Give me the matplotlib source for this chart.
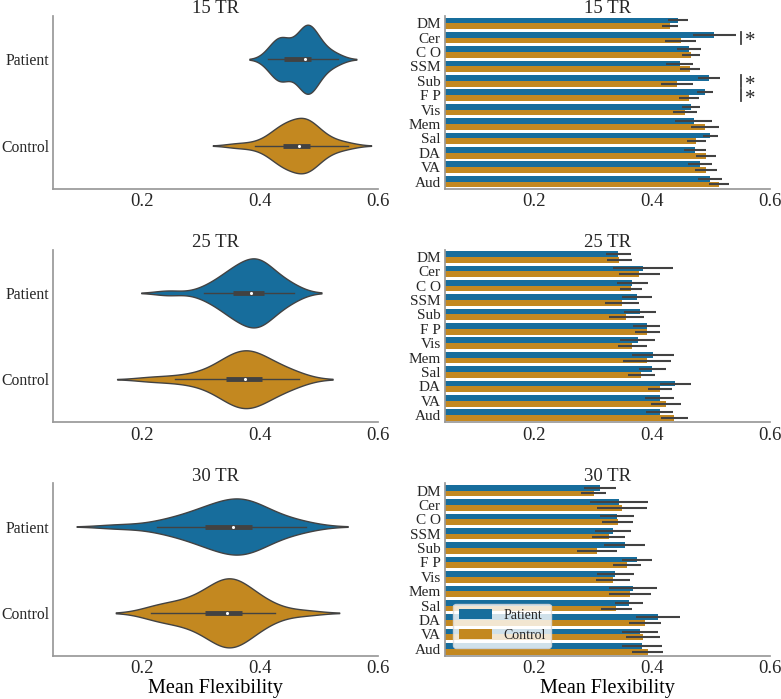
import colorsys
import numpy as np
import matplotlib
matplotlib.use("Agg")
import matplotlib.pyplot as plt
from matplotlib.patches import Patch

# --- data ---
windows = ['15 TR', '25 TR', '30 TR']
groups = ['Patient', 'Control']
networks = ['DM', 'Cer', 'C O', 'SSM', 'Sub', 'F P', 'Vis', 'Mem', 'Sal', 'DA', 'VA', 'Aud']

# per-subject mean flexibility (approximate samples for the violins)
patient_15 = [0.413, 0.422, 0.427, 0.430, 0.432, 0.434, 0.436, 0.439, 0.442, 0.448,
              0.458, 0.466, 0.470, 0.473, 0.475, 0.477, 0.478, 0.479, 0.480, 0.482,
              0.483, 0.485, 0.487, 0.490, 0.493, 0.497, 0.503, 0.510, 0.520, 0.532]
control_15 = [0.360, 0.392, 0.412, 0.422, 0.428, 0.432, 0.435, 0.438, 0.441, 0.444,
              0.448, 0.453, 0.458, 0.461, 0.464, 0.469, 0.472, 0.474, 0.476, 0.478,
              0.480, 0.482, 0.485, 0.488, 0.492, 0.497, 0.504, 0.514, 0.528, 0.548]
patient_25 = [0.245, 0.305, 0.318, 0.330, 0.340, 0.346, 0.350, 0.353, 0.358, 0.363,
              0.368, 0.372, 0.377, 0.381, 0.384, 0.387, 0.390, 0.393, 0.396, 0.399,
              0.402, 0.405, 0.408, 0.411, 0.416, 0.422, 0.430, 0.440, 0.450, 0.458]
control_25 = [0.215, 0.257, 0.285, 0.305, 0.320, 0.330, 0.338, 0.342, 0.347, 0.352,
              0.357, 0.362, 0.366, 0.370, 0.373, 0.376, 0.379, 0.382, 0.386, 0.390,
              0.394, 0.399, 0.405, 0.410, 0.416, 0.423, 0.432, 0.443, 0.455, 0.466]
patient_30 = [0.160, 0.225, 0.245, 0.262, 0.278, 0.290, 0.300, 0.306, 0.313, 0.320,
              0.327, 0.334, 0.341, 0.347, 0.352, 0.357, 0.362, 0.366, 0.370, 0.374,
              0.379, 0.384, 0.388, 0.394, 0.401, 0.410, 0.422, 0.437, 0.455, 0.478]
control_30 = [0.215, 0.228, 0.245, 0.260, 0.273, 0.285, 0.296, 0.305, 0.312, 0.318,
              0.324, 0.330, 0.335, 0.339, 0.342, 0.345, 0.348, 0.351, 0.354, 0.357,
              0.361, 0.366, 0.371, 0.376, 0.382, 0.390, 0.400, 0.412, 0.425, 0.475]

# network means and CI half widths
pat_mean_15 = [0.445, 0.506, 0.463, 0.447, 0.497, 0.490, 0.466, 0.471, 0.499, 0.473, 0.482, 0.498]
con_mean_15 = [0.431, 0.449, 0.466, 0.464, 0.442, 0.463, 0.456, 0.490, 0.475, 0.492, 0.492, 0.513]
pat_err_15 = [0.017, 0.036, 0.021, 0.023, 0.019, 0.014, 0.015, 0.031, 0.013, 0.018, 0.020, 0.020]
con_err_15 = [0.014, 0.026, 0.015, 0.017, 0.027, 0.017, 0.020, 0.024, 0.016, 0.017, 0.019, 0.017]

pat_mean_25 = [0.343, 0.385, 0.367, 0.375, 0.380, 0.391, 0.376, 0.402, 0.401, 0.440, 0.413, 0.413]
con_mean_25 = [0.345, 0.379, 0.365, 0.350, 0.357, 0.392, 0.367, 0.392, 0.382, 0.414, 0.424, 0.438]
pat_err_25 = [0.021, 0.050, 0.026, 0.026, 0.027, 0.023, 0.029, 0.035, 0.023, 0.026, 0.025, 0.023]
con_err_25 = [0.021, 0.035, 0.019, 0.029, 0.029, 0.021, 0.024, 0.040, 0.023, 0.020, 0.025, 0.023]

pat_mean_30 = [0.313, 0.344, 0.341, 0.334, 0.354, 0.375, 0.338, 0.368, 0.361, 0.411, 0.380, 0.384]
con_mean_30 = [0.302, 0.350, 0.342, 0.327, 0.307, 0.358, 0.334, 0.363, 0.340, 0.389, 0.385, 0.393]
pat_err_30 = [0.027, 0.049, 0.029, 0.030, 0.035, 0.026, 0.031, 0.041, 0.024, 0.037, 0.031, 0.034]
con_err_30 = [0.021, 0.042, 0.026, 0.028, 0.034, 0.023, 0.029, 0.035, 0.026, 0.027, 0.029, 0.026]

significant_15 = ['Cer', 'Sub', 'F P']

violin_data = {
    '15 TR': [patient_15, control_15],
    '25 TR': [patient_25, control_25],
    '30 TR': [patient_30, control_30],
}
bar_data = {
    '15 TR': (pat_mean_15, con_mean_15, pat_err_15, con_err_15),
    '25 TR': (pat_mean_25, con_mean_25, pat_err_25, con_err_25),
    '30 TR': (pat_mean_30, con_mean_30, pat_err_30, con_err_30),
}
significant = {'15 TR': significant_15, '25 TR': [], '30 TR': []}


def desaturate(hexcol, prop=0.75):
    r, g, b = matplotlib.colors.to_rgb(hexcol)
    h, l, s = colorsys.rgb_to_hls(r, g, b)
    return colorsys.hls_to_rgb(h, l, s * prop)


colors = [desaturate('#0173B2'), desaturate('#DE8F05')]
edge_gray = '0.26'

plt.rcParams['font.family'] = ['Liberation Serif', 'DejaVu Serif']
plt.rcParams['text.color'] = '0.15'
plt.rcParams['xtick.color'] = '0.15'
plt.rcParams['ytick.color'] = '0.15'


def kde(vals, grid, bw):
    vals = np.asarray(vals)
    z = (grid[:, None] - vals[None, :]) / bw
    return np.exp(-0.5 * z ** 2).sum(axis=1) / (len(vals) * bw * np.sqrt(2 * np.pi))


def draw_violins(ax, datasets):
    curves = []
    for vals in datasets:
        v = np.asarray(vals)
        bw = v.std(ddof=1) * len(v) ** (-1 / 5)
        grid = np.linspace(v.min() - 2 * bw, v.max() + 2 * bw, 200)
        curves.append((grid, kde(v, grid, bw)))
    peak = max(d.max() for _, d in curves)
    for i, (vals, (grid, dens), col) in enumerate(zip(datasets, curves, colors)):
        half = dens / peak * 0.4
        ax.fill_between(grid, i - half, i + half, facecolor=col,
                        edgecolor=edge_gray, linewidth=1, zorder=1)
        v = np.asarray(vals)
        q1, med, q3 = np.percentile(v, [25, 50, 75])
        lim = 1.5 * (q3 - q1)
        lo = v[v >= q1 - lim].min()
        hi = v[v <= q3 + lim].max()
        ax.plot([lo, hi], [i, i], color=edge_gray, lw=1, zorder=2)
        ax.plot([q1, q3], [i, i], color=edge_gray, lw=3.5, solid_capstyle='butt', zorder=3)
        ax.scatter([med], [i], s=5, color='white', zorder=4, linewidths=0)
    ax.set_ylim(1.5, -0.5)
    ax.set_yticks(range(len(groups)))
    ax.set_yticklabels(groups, fontsize=11.3)


def draw_bars(ax, key):
    pm, cm, pe, ce = bar_data[key]
    y = np.arange(len(networks))
    h = 0.4
    ax.barh(y - h / 2, pm, height=h, color=colors[0], zorder=1)
    ax.barh(y + h / 2, cm, height=h, color=colors[1], zorder=1)
    ax.errorbar(pm, y - h / 2, xerr=pe, fmt='none', ecolor=edge_gray, elinewidth=1.5, zorder=2)
    ax.errorbar(cm, y + h / 2, xerr=ce, fmt='none', ecolor=edge_gray, elinewidth=1.5, zorder=2)
    for name in significant[key]:
        i = networks.index(name)
        ax.plot([0.551, 0.551], [i - 0.42, i + 0.42], color=edge_gray, lw=1.3, clip_on=False)
        ax.text(0.5575, i + 0.3, '*', fontsize=15, ha='left', va='center', clip_on=False)
    ax.set_ylim(len(networks) - 0.5, -0.5)
    ax.set_yticks(y)
    ax.set_yticklabels(networks, fontsize=11)


fig, axes = plt.subplots(3, 2, figsize=(7.81, 6.99), dpi=100)
fig.subplots_adjust(left=0.068, right=0.986, bottom=0.0615, top=0.977,
                    wspace=0.205, hspace=0.353)

for row, key in enumerate(windows):
    axv, axb = axes[row]
    draw_violins(axv, violin_data[key])
    draw_bars(axb, key)
    for ax in (axv, axb):
        ax.set_title(key, fontsize=13.5, y=1.016, pad=0)
        ax.set_xlim(0.05, 0.6)
        ax.set_xticks([0.2, 0.4, 0.6])
        ax.tick_params(axis='x', labelsize=13.5, length=0, pad=3)
        ax.tick_params(axis='y', length=0, pad=3)
        for side in ('top', 'right'):
            ax.spines[side].set_visible(False)
        for side in ('left', 'bottom'):
            ax.spines[side].set_color('0.6')
            ax.spines[side].set_linewidth(1.25)
    if row == 2:
        axv.set_xlabel('Mean Flexibility', fontsize=14.5, labelpad=1)
        axb.set_xlabel('Mean Flexibility', fontsize=14.5, labelpad=1)
        handles = [Patch(facecolor=c, label=g) for c, g in zip(colors, groups)]
        axb.legend(handles=handles, loc='lower left', fontsize=10, framealpha=0.8,
                   edgecolor='0.85', handlelength=2.4, borderaxespad=0.6)

fig.savefig('out.png', dpi=100)
